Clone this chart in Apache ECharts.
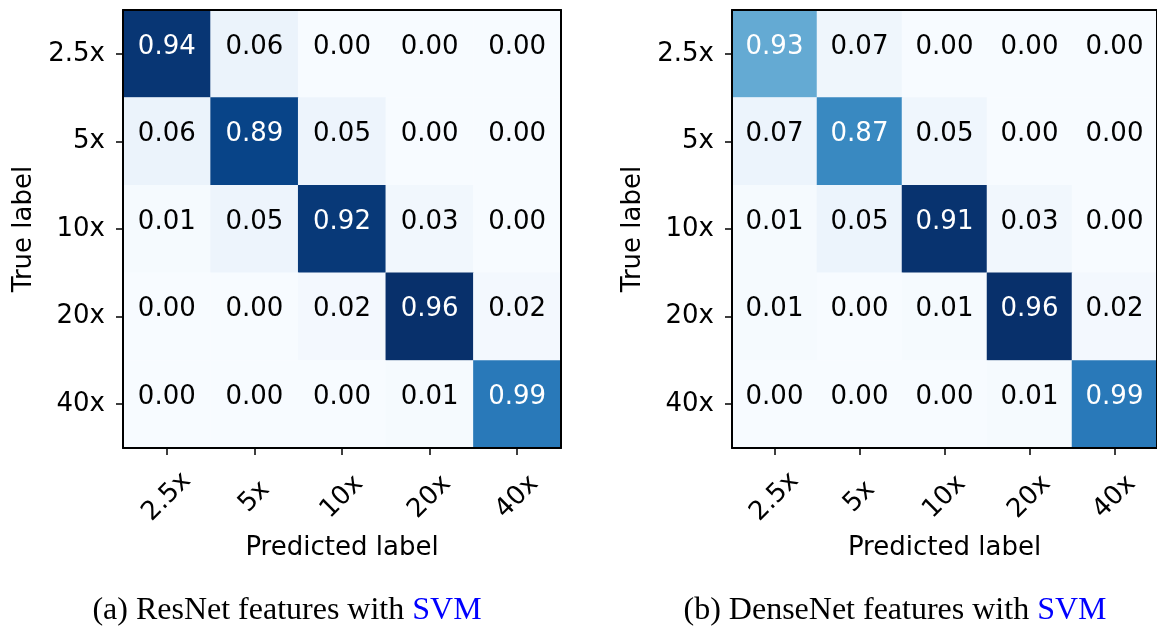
<!DOCTYPE html>
<html>
<head>
<meta charset="utf-8">
<script src="https://cdn.jsdelivr.net/npm/echarts@6/dist/echarts.min.js"></script>
<style>
  html, body { margin: 0; padding: 0; background: #fff; }
  #chart { width: 1157px; height: 627px; }
</style>
</head>
<body>
<div id="chart"></div>
<script>
// Magnification classes (rows = true label, columns = predicted label)
const classes = ['2.5x', '5x', '10x', '20x', '40x'];

// Row-normalised rates shown in each cell
const resnetRates = [
  [0.94, 0.06, 0.00, 0.00, 0.00],
  [0.06, 0.89, 0.05, 0.00, 0.00],
  [0.01, 0.05, 0.92, 0.03, 0.00],
  [0.00, 0.00, 0.02, 0.96, 0.02],
  [0.00, 0.00, 0.00, 0.01, 0.99]
];
// Sample counts that drive the cell shading
const resnetCounts = [
  [489, 31, 0, 0, 0],
  [31, 463, 26, 0, 0],
  [5, 26, 483, 16, 0],
  [0, 0, 10, 500, 10],
  [0, 0, 0, 4, 360]
];

const densenetRates = [
  [0.93, 0.07, 0.00, 0.00, 0.00],
  [0.07, 0.87, 0.05, 0.00, 0.00],
  [0.01, 0.05, 0.91, 0.03, 0.00],
  [0.01, 0.00, 0.01, 0.96, 0.02],
  [0.00, 0.00, 0.00, 0.01, 0.99]
];
const densenetCounts = [
  [260, 20, 0, 0, 0],
  [27, 330, 19, 0, 0],
  [5, 27, 495, 16, 0],
  [5, 0, 5, 500, 10],
  [0, 0, 0, 4, 360]
];

const captions = [
  { prefix: '(a) ResNet features with ', link: 'SVM' },
  { prefix: '(b) DenseNet features with ', link: 'SVM' }
];

// matplotlib "Blues" colormap stops
const blues = ['#f7fbff', '#deebf7', '#c6dbef', '#9ecae1', '#6baed6',
               '#4292c6', '#2171b5', '#08519c', '#08306b'];

const FONT = 'DejaVu Sans';
const FS = 26;
const grids = [
  { left: 123, top: 10, width: 438, height: 438 },
  { left: 732, top: 10, width: 438, height: 438 }
];
const captionCenters = [287, 895];
const matrices = [
  { rates: resnetRates, counts: resnetCounts },
  { rates: densenetRates, counts: densenetCounts }
];

function cellData(m) {
  const maxCount = Math.max(...m.counts.flat());
  const out = [];
  m.counts.forEach((row, r) => {
    row.forEach((c, col) => {
      out.push({
        value: [col, r, c, m.rates[r][col]],
        label: { color: c > maxCount / 2 ? '#ffffff' : '#000000' }
      });
    });
  });
  return { data: out, max: maxCount };
}

const xAxis = [], yAxis = [], series = [], visualMap = [];
grids.forEach((g, i) => {
  const frame = { show: true, lineStyle: { color: '#000', width: 2 } };
  const tick = { show: true, alignWithLabel: true, length: 7, lineStyle: { color: '#000', width: 1.5 } };
  xAxis.push({
    type: 'category', data: classes, gridIndex: i, position: 'bottom', z: 10,
    axisLine: frame, axisTick: tick,
    axisLabel: { rotate: 45, align: 'center', verticalAlign: 'middle', margin: 49,
                 fontFamily: FONT, fontSize: FS, color: '#000', interval: 0 },
    splitLine: { show: false },
    name: 'Predicted label', nameLocation: 'middle', nameGap: 87,
    nameTextStyle: { fontFamily: FONT, fontSize: FS, color: '#000' }
  });
  xAxis.push({
    type: 'category', data: classes, gridIndex: i, position: 'top', z: 10,
    axisLine: frame, axisTick: { show: false }, axisLabel: { show: false }
  });
  yAxis.push({
    type: 'category', data: classes, gridIndex: i, position: 'left', inverse: true, z: 10,
    axisLine: frame, axisTick: tick,
    axisLabel: { margin: 18, padding: [6, 0, 0, 0], fontFamily: FONT, fontSize: FS,
                 color: '#000', interval: 0 },
    splitLine: { show: false },
    name: 'True label', nameLocation: 'middle', nameGap: 86,
    nameTextStyle: { fontFamily: FONT, fontSize: FS, color: '#000' }
  });
  yAxis.push({
    type: 'category', data: classes, gridIndex: i, position: 'right', inverse: true, z: 10,
    axisLine: frame, axisTick: { show: false }, axisLabel: { show: false }
  });

  const cd = cellData(matrices[i]);
  series.push({
    type: 'heatmap',
    xAxisIndex: i * 2, yAxisIndex: i * 2,
    data: cd.data,
    label: {
      show: true, fontFamily: FONT, fontSize: FS, offset: [0, -7],
      formatter: p => p.value[3].toFixed(2)
    },
    itemStyle: { borderWidth: 0 },
    emphasis: { disabled: true }
  });
  visualMap.push({
    show: false, type: 'continuous', seriesIndex: i, dimension: 2,
    min: 0, max: cd.max, inRange: { color: blues }
  });
});

const graphic = captions.map((c, i) => ({
  type: 'text',
  x: captionCenters[i],
  y: 611,
  style: {
    text: '{a|' + c.prefix + '}{b|' + c.link + '}',
    align: 'center',
    verticalAlign: 'middle',
    rich: {
      a: { fontFamily: 'Liberation Serif', fontSize: 32, fill: '#000', color: '#000' },
      b: { fontFamily: 'Liberation Serif', fontSize: 32, fill: '#0000ff', color: '#0000ff' }
    }
  }
}));

const chart = echarts.init(document.getElementById('chart'), null, { renderer: 'canvas' });
chart.setOption({
  animation: false,
  backgroundColor: '#ffffff',
  grid: grids.map(g => Object.assign({ containLabel: false }, g)),
  xAxis, yAxis, visualMap, series, graphic
});
</script>
</body>
</html>
